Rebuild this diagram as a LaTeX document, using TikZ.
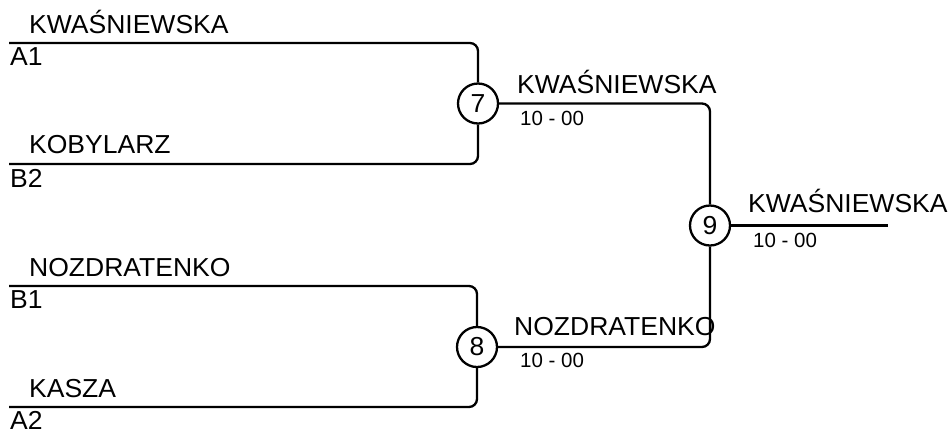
\documentclass[tikz,border=0pt]{standalone}
\usepackage{fontspec}
\setmainfont{Liberation Sans}
\newfontfamily\widefont[FakeStretch=1.02]{Liberation Sans}
\begin{document}
\begin{tikzpicture}[x=1pt,y=-1pt,
  line width=2.3pt,
  conn/.style={draw=black,line width=2.3pt,rounded corners=8pt},
  player/.style={anchor=base west,inner sep=0pt,font=\widefont\fontsize{26}{26}\selectfont},
  score/.style={anchor=base west,inner sep=0pt,font=\fontsize{20.5}{20.5}\selectfont},
  match/.style={circle,draw=black,line width=2.3pt,fill=white,minimum size=40pt,inner sep=0pt,font=\widefont\fontsize{26}{26}\selectfont}]
\useasboundingbox (0,0) rectangle (952,432);
% matches
\node[match] (m7) at (478,103.5) {7};
\node[match] (m8) at (477,347) {8};
\node[match] (m9) at (710,225.5) {9};
% bracket ends
\coordinate (a1) at (9,43);
\coordinate (b2) at (9,164);
\coordinate (b1) at (9,286);
\coordinate (a2) at (9,407);
\coordinate (win) at (888,225.5);
% connectors
\draw[conn] (a1) -| (m7.north);
\draw[conn] (b2) -| (m7.south);
\draw[conn] (b1) -| (m8.north);
\draw[conn] (a2) -| (m8.south);
\draw[conn] (m7.east) -| (m9.north);
\draw[conn] (m8.east) -| (m9.south);
\draw[conn] (m9.east) -- (win);
% labels
\node[player] (t1) at (28,33) {KWAŚNIEWSKA};
\node[player] (s1) at (9,65.5) {A1};
\node[player] (t2) at (28,153.5) {KOBYLARZ};
\node[player] (s2) at (9,187) {B2};
\node[player] (t3) at (28,276) {NOZDRATENKO};
\node[player] (s3) at (9,308.5) {B1};
\node[player] (t4) at (28,397) {KASZA};
\node[player] (s4) at (9,429) {A2};
\node[player] (w7) at (516,93) {KWAŚNIEWSKA};
\node[score] (r7) at (519,125) {10 - 00};
\node[player] (w8) at (513,335) {NOZDRATENKO};
\node[score] (r8) at (519,367) {10 - 00};
\node[player] (w9) at (747,212) {KWAŚNIEWSKA};
\node[score] (r9) at (752,247) {10 - 00};
\end{tikzpicture}
\end{document}
